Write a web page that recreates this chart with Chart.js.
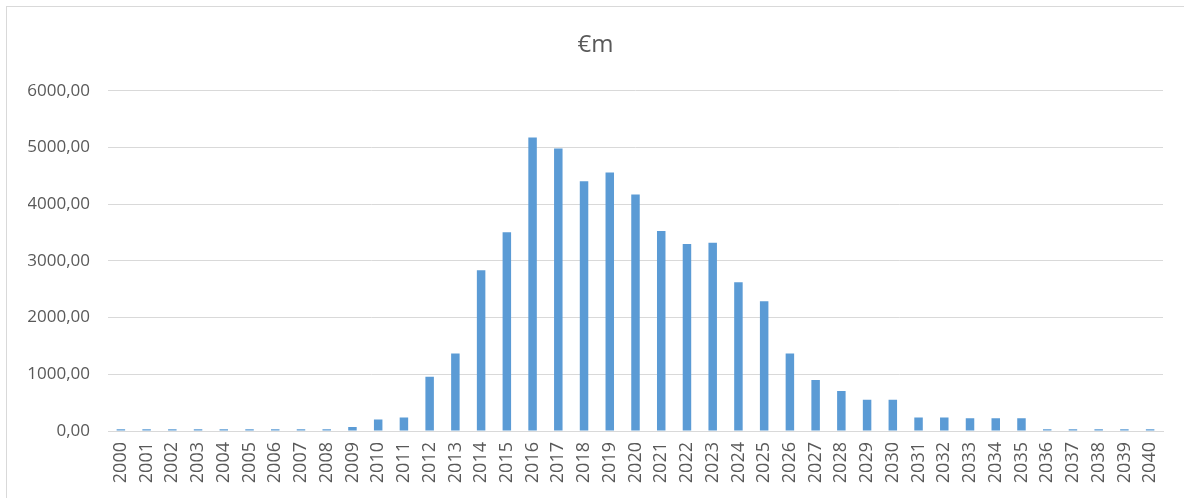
<!DOCTYPE html>
<html>
<head>
<meta charset="utf-8">
<script src="https://cdn.jsdelivr.net/npm/chart.js@4.4.1/dist/chart.umd.min.js"></script>
<style>
  html, body { margin: 0; padding: 0; background: #ffffff; }
  #wrap { position: relative; width: 1184px; height: 498px; overflow: hidden; }
  #frame { position: absolute; left: 6px; top: 6px; width: 1200px; height: 520px; border: 1px solid #d9d9d9; box-sizing: border-box; }
  canvas { position: absolute; left: 0; top: 0; }
</style>
</head>
<body>
<div id="wrap">
  <div id="frame"></div>
  <canvas id="c" width="1184" height="498"></canvas>
</div>
<script>
const years = ["2000","2001","2002","2003","2004","2005","2006","2007","2008","2009",
  "2010","2011","2012","2013","2014","2015","2016","2017","2018","2019",
  "2020","2021","2022","2023","2024","2025","2026","2027","2028","2029",
  "2030","2031","2032","2033","2034","2035","2036","2037","2038","2039","2040"];
const valuesEurM = [30,30,30,30,30,30,30,30,30,70,
  205,240,958,1365,2835,3506,5176,4982,4406,4559,
  4170,3529,3300,3318,2624,2288,1365,900,706,553,
  553,240,240,224,224,224,30,30,30,30,30];
const yTicks = [0,1000,2000,3000,4000,5000,6000];
const chartTitle = "€m";

const fontFamily = "'Open Sans', 'Liberation Sans', sans-serif";
const textColor = "#595959";

new Chart(document.getElementById('c'), {
  type: 'bar',
  data: {
    labels: years,
    datasets: [{
      data: valuesEurM,
      backgroundColor: '#5b9bd5',
      borderWidth: 0,
      barPercentage: 0.33,
      categoryPercentage: 1.0
    }]
  },
  options: {
    responsive: false,
    animation: false,
    layout: { padding: { left: 28, right: 21, top: 0, bottom: 0 } },
    plugins: {
      legend: { display: false },
      tooltip: { enabled: false },
      title: {
        display: true,
        text: chartTitle,
        color: textColor,
        font: { family: fontFamily, size: 24, weight: 'normal' },
        padding: { top: 31, bottom: 31 }
      }
    },
    scales: {
      x: {
        grid: { display: false, drawTicks: false },
        border: { display: true, color: '#d9d9d9', width: 1 },
        ticks: {
          color: textColor,
          font: { family: fontFamily, size: 18 },
          minRotation: 90,
          maxRotation: 90,
          autoSkip: false,
          padding: 11
        },
        afterFit: (s) => { s.height = 67; }
      },
      y: {
        min: 0,
        max: 6000,
        afterBuildTicks: (s) => { s.ticks = yTicks.map(v => ({ value: v })); },
        grid: { color: '#d9d9d9', lineWidth: 1, drawTicks: false },
        border: { display: false },
        ticks: {
          color: textColor,
          font: { family: fontFamily, size: 17 },
          padding: 18,
          callback: (v) => v.toFixed(2).replace('.', ',')
        },
        afterFit: (s) => { s.width = 80; }
      }
    }
  }
});
</script>
</body>
</html>
